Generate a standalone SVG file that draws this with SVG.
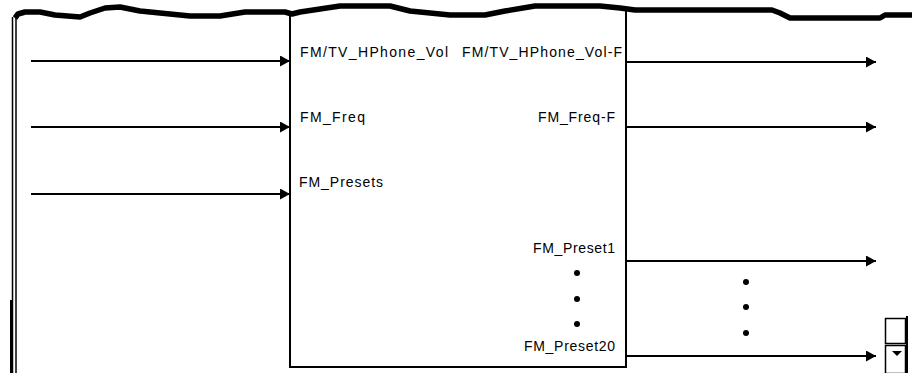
<svg xmlns="http://www.w3.org/2000/svg" width="914" height="373" viewBox="0 0 914 373">
<defs>
<style>
.t{font-family:"Liberation Sans",Arial,sans-serif;font-size:14px;fill:#000}
.w{fill:none;stroke:#000;stroke-width:2}
.c{fill:none;stroke:#000;stroke-width:2}
</style>
<marker id="ah" markerWidth="11" markerHeight="11" refX="10" refY="5.5" orient="auto" markerUnits="userSpaceOnUse">
<path d="M0,0 L10,5.5 L0,11 Z" fill="#000"/>
</marker>
</defs>
<rect width="914" height="373" fill="#fff"/>
<g id="frame">
<line x1="12.5" y1="17" x2="12.5" y2="373" stroke="#000" stroke-width="1.5"/>
<line x1="16" y1="17" x2="16" y2="373" stroke="#000" stroke-width="1.5"/>
<line x1="11.5" y1="300" x2="11.5" y2="373" stroke="#000" stroke-width="3"/>
<path d="M15,18 L18,14 L25,12 L40,12 L55,15 L80,17 L90,13 L105,8 L120,7 L140,11 L160,13 L190,16 L220,16 L245,12 L285,12 L292,14 L300,12 L320,9 L340,6 L390,6 L410,11 L450,15 L485,15 L505,11 L535,6 L600,6 L620,8 L635,10 L680,10 L772,10 L780,13 L790,18 L880,18 L885,15 L912,15" fill="none" stroke="#000" stroke-width="5.5" stroke-linejoin="round"/>
</g>
<g id="block">
<polyline points="290,13 290,367 626,367 626,10" class="w"/>
<text class="t" x="300" y="57" textLength="148" lengthAdjust="spacing">FM/TV_HPhone_Vol</text>
<text class="t" x="462" y="57" textLength="160" lengthAdjust="spacing">FM/TV_HPhone_Vol-F</text>
<text class="t" x="300" y="122" textLength="65" lengthAdjust="spacing">FM_Freq</text>
<text class="t" x="538" y="122" textLength="77" lengthAdjust="spacing">FM_Freq-F</text>
<text class="t" x="299" y="187" textLength="84" lengthAdjust="spacing">FM_Presets</text>
<text class="t" x="533" y="253" textLength="82" lengthAdjust="spacing">FM_Preset1</text>
<text class="t" x="524" y="351" textLength="91" lengthAdjust="spacing">FM_Preset20</text>
<circle cx="577" cy="273" r="3"/>
<circle cx="577" cy="299" r="3"/>
<circle cx="577" cy="324" r="3"/>
</g>
<g id="connectors">
<line x1="31" y1="61" x2="290" y2="61" class="c" marker-end="url(#ah)"/>
<line x1="31" y1="127" x2="290" y2="127" class="c" marker-end="url(#ah)"/>
<line x1="31" y1="194" x2="290" y2="194" class="c" marker-end="url(#ah)"/>
<line x1="627" y1="62" x2="876" y2="62" class="c" marker-end="url(#ah)"/>
<line x1="627" y1="127" x2="876" y2="127" class="c" marker-end="url(#ah)"/>
<line x1="627" y1="261" x2="876" y2="261" class="c" marker-end="url(#ah)"/>
<line x1="627" y1="356" x2="876" y2="356" class="c" marker-end="url(#ah)"/>
<circle cx="746" cy="282" r="3"/>
<circle cx="746" cy="307" r="3"/>
<circle cx="746" cy="333" r="3"/>
</g>
<g id="scroll">
<rect x="885.5" y="318.5" width="20" height="25" fill="#fff" stroke="#000" stroke-width="1.5"/>
<rect x="885.5" y="345.5" width="20" height="28" fill="#fff" stroke="#000" stroke-width="1.5"/>
<line x1="907" y1="316" x2="907" y2="373" stroke="#000" stroke-width="2"/>
<path d="M892,351 L902,351 L897,356 Z" fill="#000"/>
</g>
</svg>
